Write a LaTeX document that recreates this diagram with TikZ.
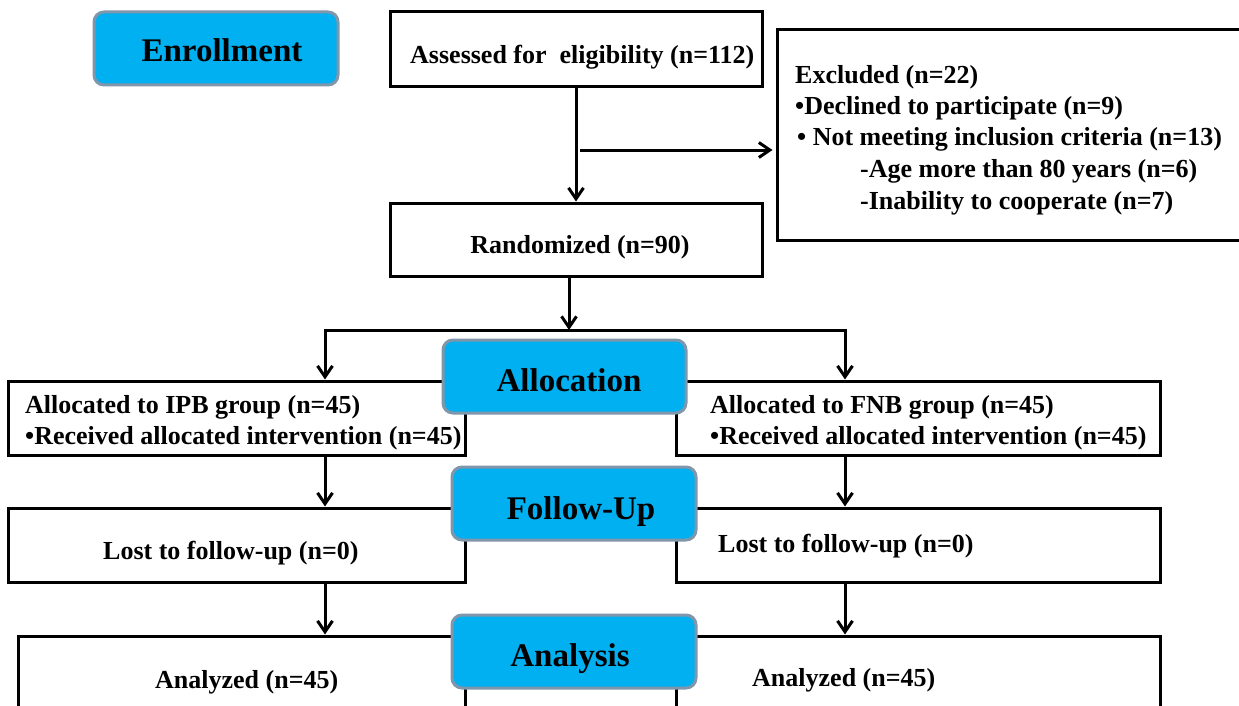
\documentclass[tikz,border=0pt]{standalone}
\usepackage{fontspec}
\setmainfont{Liberation Serif}
\usetikzlibrary{arrows.meta}
\definecolor{cyanfill}{RGB}{0,176,240}
\definecolor{cyanedge}{RGB}{128,150,170}
\begin{document}
\begin{tikzpicture}[x=1pt,y=1pt,
  box/.style={draw=black, line width=3pt, fill=white, inner sep=0pt, rectangle},
  stage/.style={draw=cyanedge, line width=3pt, fill=cyanfill, rounded corners=10pt, inner sep=0pt, rectangle},
  txt/.style={inner sep=0pt, font=\fontsize{26}{31}\selectfont\bfseries},
  lbl/.style={inner sep=0pt, font=\fontsize{33}{40}\selectfont\bfseries},
  arr/.style={line width=3pt, -{Straight Barb[length=11pt,width=15pt]}},
  ln/.style={line width=3pt}
]
\path[use as bounding box] (0,0) rectangle (1239,-706);
\clip (0,0) rectangle (1239,-706);
\fill[white] (0,0) rectangle (1239,-706);

% white boxes
\node[box, minimum width=372pt, minimum height=75pt] (assess) at (576,-49.5) {};
\node[box, minimum width=473pt, minimum height=210pt] (excl) at (1013.5,-135) {};
\node[box, minimum width=372pt, minimum height=73pt] (rand) at (576,-239.5) {};
\node[box, minimum width=457pt, minimum height=74pt] (allocL) at (236.5,-418) {};
\node[box, minimum width=484pt, minimum height=74pt] (allocR) at (918,-418) {};
\node[box, minimum width=457pt, minimum height=74pt] (lostL) at (236.5,-545) {};
\node[box, minimum width=484pt, minimum height=74pt] (lostR) at (918,-545) {};
\node[box, minimum width=447pt, minimum height=84pt] (anaL) at (241.5,-678) {};
\node[box, minimum width=484pt, minimum height=84pt] (anaR) at (918,-678) {};

% stage labels
\node[stage, minimum width=244pt, minimum height=73pt] (enroll) at (216,-48.5) {};
\node[stage, minimum width=243pt, minimum height=73pt] (alloc) at (564.5,-376.5) {};
\node[stage, minimum width=244pt, minimum height=73pt] (follow) at (574,-503.5) {};
\node[stage, minimum width=244pt, minimum height=73pt] (analysis) at (574,-651.5) {};

\node[lbl, anchor=base] (tEnroll) at (222,-62) {Enrollment};
\node[lbl, anchor=base] (tAlloc) at (569,-391) {Allocation};
\node[lbl, anchor=base] (tFollow) at (581,-519) {Follow-Up};
\node[lbl, anchor=base] (tAnalysis) at (570,-666) {Analysis};

% texts
\node[txt, anchor=base west] (tAssess) at (410,-64) {Assessed for\ \ eligibility (n=112)};
\node[txt, anchor=base west] (tEx1) at (795,-84) {Excluded (n=22)};
\node[txt, anchor=base west] (tEx2) at (795,-115) {•Declined to participate (n=9)};
\node[txt, anchor=base west] (tEx3) at (797,-146) {• Not meeting inclusion criteria (n=13)};
\node[txt, anchor=base west] (tEx4) at (860,-177) {-Age more than 80 years (n=6)};
\node[txt, anchor=base west] (tEx5) at (860,-209) {-Inability to cooperate (n=7)};
\node[txt, anchor=base] (tRand) at (580,-253) {Randomized (n=90)};
\node[txt, anchor=base west] (tAL1) at (25,-413) {Allocated to IPB group (n=45)};
\node[txt, anchor=base west] (tAL2) at (25,-444) {•Received allocated intervention (n=45)};
\node[txt, anchor=base west] (tAR1) at (710,-413) {Allocated to FNB group (n=45)};
\node[txt, anchor=base west] (tAR2) at (710,-444) {•Received allocated intervention (n=45)};
\node[txt, anchor=base west] (tLL) at (103,-559) {Lost to follow-up (n=0)};
\node[txt, anchor=base west] (tLR) at (718,-552) {Lost to follow-up (n=0)};
\node[txt, anchor=base west] (tNL) at (155,-688) {Analyzed (n=45)};
\node[txt, anchor=base west] (tNR) at (752,-686) {Analyzed (n=45)};

% connectors
\coordinate (exfrom) at (580,-150);
\coordinate (sp) at (569,-330);
\coordinate (spl) at (325,-330);
\coordinate (spr) at (845,-330);
\draw[arr] (assess.south) -- (rand.north);
\draw[arr] (exfrom) -- ([xshift=-3pt]exfrom -| excl.west);
\draw[arr] (rand.south -| sp) -- (sp);
\draw[ln] (spl) -- (spr);
\draw[arr] ([yshift=1.5pt]spl) -- (spl |- allocL.north);
\draw[arr] ([yshift=1.5pt]spr) -- (spr |- allocR.north);
\draw[arr] (allocL.south -| spl) -- (lostL.north -| spl);
\draw[arr] (allocR.south -| spr) -- (lostR.north -| spr);
\draw[arr] (lostL.south -| spl) -- (anaL.north -| spl);
\draw[arr] (lostR.south -| spr) -- (anaR.north -| spr);
\end{tikzpicture}
\end{document}
